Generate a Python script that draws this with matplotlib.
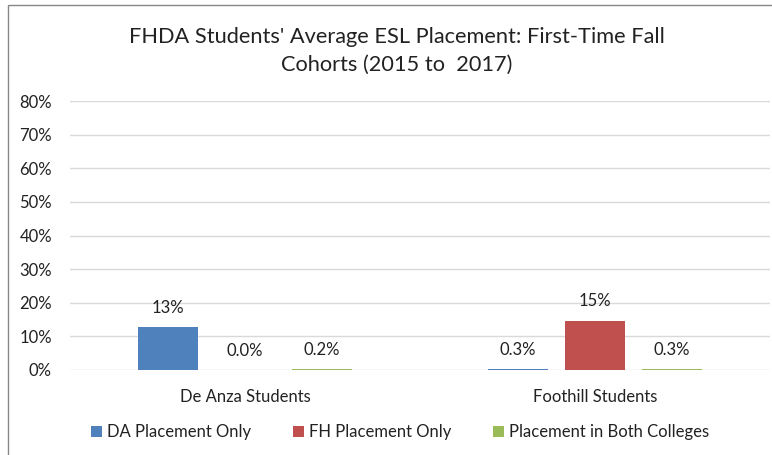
import matplotlib
matplotlib.use("Agg")
import matplotlib.pyplot as plt
from matplotlib.patches import Rectangle
import numpy as np

plt.rcParams['font.family'] = ['Lato', 'DejaVu Sans']

categories = ["De Anza Students", "Foothill Students"]
series_names = ["DA Placement Only", "FH Placement Only", "Placement in Both Colleges"]
da_only = [0.128, 0.003]
fh_only = [0.0, 0.146]
both = [0.002, 0.003]
da_labels = ["13%", "0.3%"]
fh_labels = ["0.0%", "15%"]
both_labels = ["0.2%", "0.3%"]
yticks = [0, 0.1, 0.2, 0.3, 0.4, 0.5, 0.6, 0.7, 0.8]
ytick_labels = ["0%", "10%", "20%", "30%", "40%", "50%", "60%", "70%", "80%"]
colors = ["#4F81BD", "#C0504D", "#9BBB59"]

W, H = 772, 455
fig = plt.figure(figsize=(W/100, H/100), dpi=100)
ax = fig.add_axes([70/W, (H-370)/H, 700/W, (370-101)/H])

x = np.arange(len(categories))
bw = 60/350
off = 77/350
all_vals = [da_only, fh_only, both]
all_labels = [da_labels, fh_labels, both_labels]
for i, (vals, labs) in enumerate(zip(all_vals, all_labels)):
    bars = ax.bar(x + (i-1)*off, vals, width=bw, color=colors[i], label=series_names[i], zorder=3)
    for b, lab in zip(bars, labs):
        ax.annotate(lab, (b.get_x()+b.get_width()/2, b.get_height()),
                    xytext=(0, 14), textcoords='offset points',
                    ha='center', va='center', fontsize=12, color='#222222')

ax.set_xlim(-0.5, 1.5)
ax.set_ylim(0, 0.8)
ax.set_yticks(yticks)
ax.set_yticklabels(ytick_labels, fontsize=12, color='#222222')
ax.set_xticks(x)
ax.set_xticklabels(categories, fontsize=12, color='#222222')
ax.tick_params(axis='both', length=0)
ax.tick_params(axis='y', pad=13)
ax.tick_params(axis='x', pad=14)
ax.grid(axis='y', color='#D9D9D9', linewidth=1, zorder=0)
for s in ax.spines.values():
    s.set_visible(False)

fig.text(397/W, 1-37/H, "FHDA Students' Average ESL Placement: First-Time Fall",
         ha='center', va='center', fontsize=15.7, color='#222222')
fig.text(397/W, 1-65/H, "Cohorts (2015 to  2017)",
         ha='center', va='center', fontsize=15.7, color='#222222')

leg = fig.legend(loc='center', bbox_to_anchor=(400/W, 1-432/H), ncol=3, frameon=False,
                 fontsize=12, handlelength=0.65, handleheight=0.65, handletextpad=0.3,
                 columnspacing=2.5)
for t in leg.get_texts():
    t.set_color('#222222')

fig.patches.append(Rectangle((8/W, -0.05), 1.1, 1-5/H+0.05, transform=fig.transFigure,
                             fill=False, edgecolor='#888888', linewidth=1))

fig.savefig("out.png", dpi=100)
